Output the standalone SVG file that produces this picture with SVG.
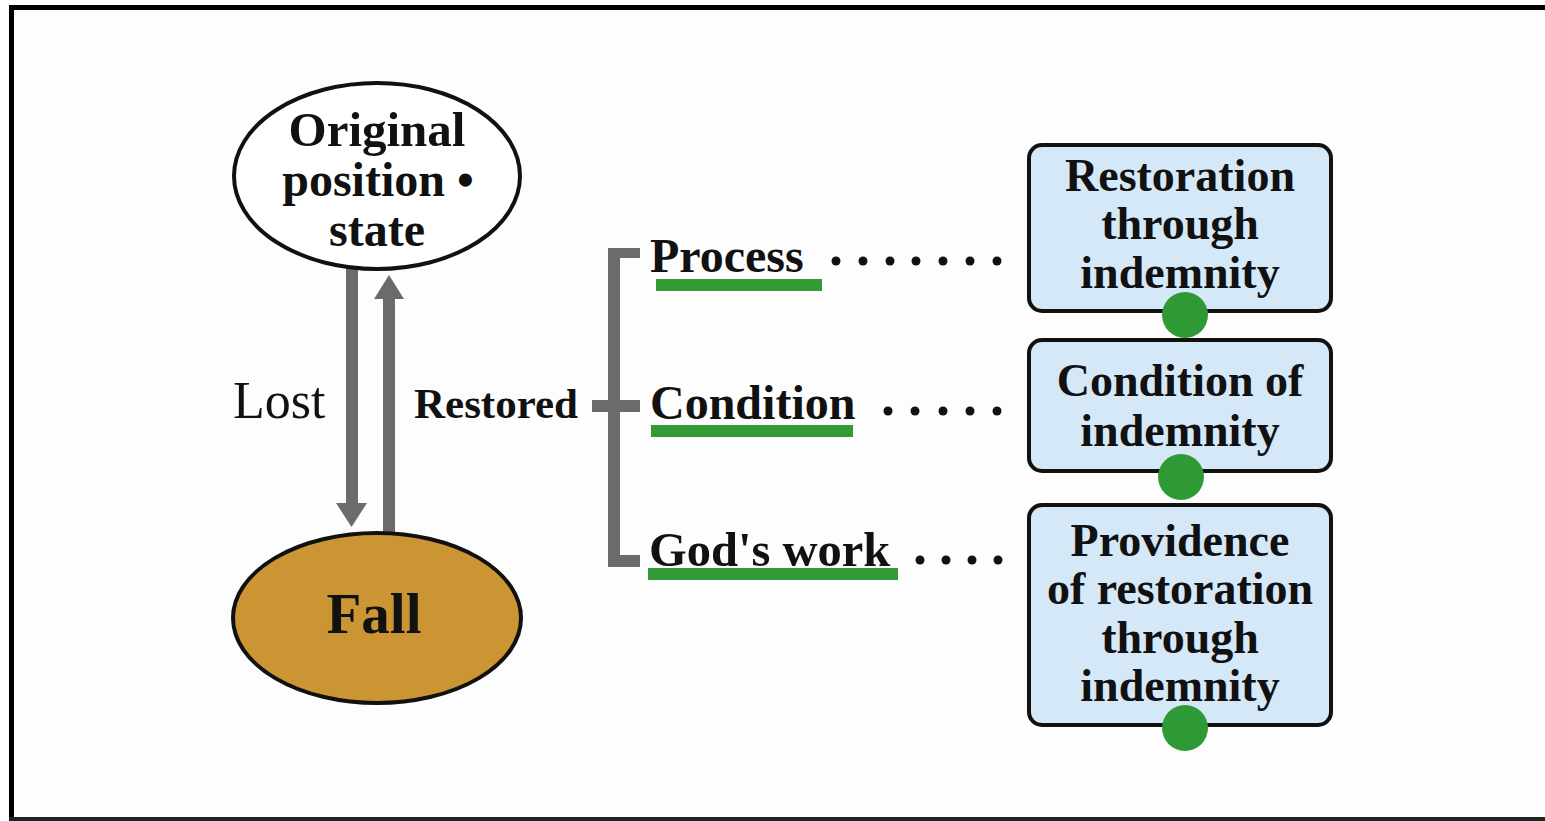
<svg xmlns="http://www.w3.org/2000/svg" width="1545" height="821" viewBox="0 0 1545 821">
<defs>
<style>
.t{font-family:"Liberation Serif","Times New Roman",serif;font-weight:bold;fill:#111;text-anchor:middle}
.l{font-family:"Liberation Serif","Times New Roman",serif;font-weight:bold;fill:#111}
.box{fill:#d5e8f8;stroke:#111;stroke-width:4}
.gray{fill:#6b6b6b}
.ul{fill:#339a36}
.dot{fill:#111}
.gc{fill:#2f9a35}
</style>
</defs>
<rect x="0" y="0" width="1545" height="821" fill="#ffffff"/>
<rect x="12" y="8" width="1533" height="811" fill="#fdfdfd"/>
<g id="frame" fill="#000">
<rect x="9" y="5" width="1536" height="5"/>
<rect x="9" y="5" width="5" height="816"/>
<rect x="9" y="817" width="1536" height="4" fill="#222"/>
</g>
<g id="connectors">
<rect class="gray" x="346" y="268" width="12" height="238"/>
<polygon class="gray" points="336,503 367,503 351.5,527"/>
<rect class="gray" x="383" y="296" width="12" height="238"/>
<polygon class="gray" points="374,299 404,299 389,275"/>
<rect class="gray" x="608" y="248" width="12" height="319"/>
<rect class="gray" x="608" y="248" width="32" height="10"/>
<rect class="gray" x="592" y="400" width="48" height="12"/>
<rect class="gray" x="608" y="555" width="32" height="12"/>
<g class="dot">
<circle cx="836" cy="261" r="4.5"/><circle cx="863" cy="261" r="4.5"/><circle cx="890" cy="261" r="4.5"/><circle cx="916" cy="261" r="4.5"/><circle cx="943" cy="261" r="4.5"/><circle cx="970" cy="261" r="4.5"/><circle cx="997" cy="261" r="4.5"/>
<circle cx="888" cy="411" r="4.5"/><circle cx="915" cy="411" r="4.5"/><circle cx="943" cy="411" r="4.5"/><circle cx="970" cy="411" r="4.5"/><circle cx="997" cy="411" r="4.5"/>
<circle cx="920" cy="560" r="4.5"/><circle cx="946" cy="560" r="4.5"/><circle cx="972" cy="560" r="4.5"/><circle cx="998" cy="560" r="4.5"/>
</g>
</g>
<g id="original">
<ellipse cx="377" cy="176" rx="143" ry="93" fill="#fff" stroke="#111" stroke-width="4"/>
<text class="t" x="377" y="146" font-size="49">Original</text>
<text class="t" x="378" y="196" font-size="48">position •</text>
<text class="t" x="377" y="246" font-size="48">state</text>
</g>
<g id="fall">
<ellipse cx="377" cy="618" rx="144" ry="85" fill="#cc9533" stroke="#111" stroke-width="4"/>
<text class="t" x="374" y="633" font-size="57">Fall</text>
</g>
<g id="lost">
<text x="233" y="418" font-family="'Liberation Serif','Times New Roman',serif" font-size="52" fill="#111">Lost</text>
</g>
<g id="restored">
<text class="l" x="414" y="418" font-size="43">Restored</text>
</g>
<g id="process">
<text class="l" x="650" y="272" font-size="48">Process</text>
<rect class="ul" x="656" y="279" width="166" height="12"/>
</g>
<g id="condition">
<text class="l" x="650" y="419" font-size="48">Condition</text>
<rect class="ul" x="651" y="425" width="202" height="12"/>
</g>
<g id="godswork">
<text class="l" x="649" y="566" font-size="48.5">God's work</text>
<rect class="ul" x="648" y="568" width="250" height="12"/>
</g>
<g id="box1">
<rect class="box" x="1029" y="145" width="302" height="166" rx="13"/>
<text class="t" x="1180" y="191" font-size="46">Restoration</text>
<text class="t" x="1180" y="239" font-size="46">through</text>
<text class="t" x="1180" y="288" font-size="46">indemnity</text>
<circle class="gc" cx="1185" cy="315" r="23"/>
</g>
<g id="box2">
<rect class="box" x="1029" y="340" width="302" height="131" rx="13"/>
<text class="t" x="1180" y="396" font-size="46">Condition of</text>
<text class="t" x="1180" y="446" font-size="46">indemnity</text>
<circle class="gc" cx="1181" cy="477" r="23"/>
</g>
<g id="box3">
<rect class="box" x="1029" y="505" width="302" height="220" rx="13"/>
<text class="t" x="1180" y="556" font-size="46">Providence</text>
<text class="t" x="1180" y="604" font-size="46">of restoration</text>
<text class="t" x="1180" y="653" font-size="46">through</text>
<text class="t" x="1180" y="701" font-size="46">indemnity</text>
<circle class="gc" cx="1185" cy="728" r="23"/>
</g>
</svg>
